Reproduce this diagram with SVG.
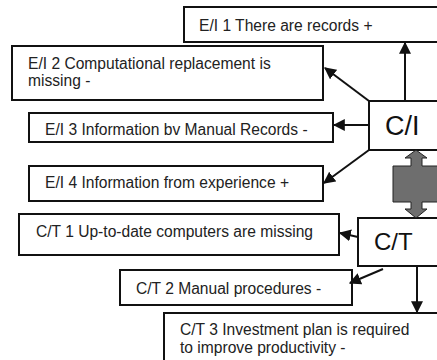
<svg xmlns="http://www.w3.org/2000/svg" width="437" height="360" viewBox="0 0 437 360">
  <style>
    .box { fill: #fff; stroke: #111; stroke-width: 2; }
    .txt { font-family: "Liberation Sans", Arial, sans-serif; font-size: 15.6px; fill: #222; }
    .big { font-family: "Liberation Sans", Arial, sans-serif; fill: #111; }
    .con { stroke: #111; stroke-width: 2; fill: none; marker-end: url(#head); }
  </style>
  <defs>
    <marker id="head" viewBox="0 0 10 10" refX="9" refY="5" markerWidth="6" markerHeight="6" markerUnits="strokeWidth" orient="auto">
      <path d="M0,0 L10,5 L0,10 z" fill="#111"/>
    </marker>
  </defs>
  <rect width="437" height="360" fill="#fff"/>

  <g id="ei1">
    <rect class="box" x="184" y="7" width="260" height="35"/>
    <text class="txt" x="199" y="31">E/I 1 There are records +</text>
  </g>
  <g id="ei2">
    <rect class="box" x="12" y="46" width="311" height="54"/>
    <text class="txt" x="28" y="69">E/I 2 Computational replacement is</text>
    <text class="txt" x="28" y="86">missing -</text>
  </g>
  <g id="ei3">
    <rect class="box" x="29" y="113" width="304" height="29"/>
    <text class="txt" x="45" y="135">E/I 3 Information bv Manual Records -</text>
  </g>
  <g id="ei4">
    <rect class="box" x="29" y="166" width="294" height="35"/>
    <text class="txt" x="45" y="188">E/I 4 Information from experience +</text>
  </g>
  <g id="ci">
    <rect class="box" x="369" y="101" width="80" height="49" stroke-width="1.5"/>
    <text class="big" x="385" y="135" font-size="27">C/I</text>
  </g>
  <g id="ct">
    <rect class="box" x="358" y="218" width="90" height="48" stroke-width="1.5"/>
    <text class="big" x="374" y="250" font-size="24">C/T</text>
  </g>
  <g id="ct1">
    <rect class="box" x="19" y="214" width="320" height="41"/>
    <text class="txt" x="36" y="237">C/T 1 Up-to-date computers are missing</text>
  </g>
  <g id="ct2">
    <rect class="box" x="120" y="270" width="232" height="35"/>
    <text class="txt" x="136" y="294">C/T 2 Manual procedures -</text>
  </g>
  <g id="ct3">
    <rect class="box" x="164" y="313" width="290" height="60"/>
    <text class="txt" x="180" y="335">C/T 3 Investment plan is required</text>
    <text class="txt" x="180" y="353">to improve productivity -</text>
  </g>

  <g id="connectors">
    <line class="con" x1="405" y1="101" x2="405" y2="43"/>
    <line class="con" x1="369" y1="101" x2="325" y2="68"/>
    <line class="con" x1="369" y1="125" x2="334" y2="125"/>
    <line class="con" x1="369" y1="150" x2="324" y2="183"/>
    <line class="con" x1="358" y1="237" x2="340" y2="233"/>
    <line class="con" x1="383" y1="269" x2="350" y2="283"/>
    <line class="con" x1="417" y1="266" x2="417" y2="312"/>
    <!-- two-way block arrow between C/I and C/T -->
    <path d="M416,150 L427,158 L422,158 L422,166 L439,166 L439,202 L422,202 L422,209 L427,209 L416,218 L405,209 L411,209 L411,202 L393,202 L393,166 L411,166 L411,158 L405,158 Z" fill="#6e6e6e" stroke="#222" stroke-width="1"/>
  </g>
</svg>
